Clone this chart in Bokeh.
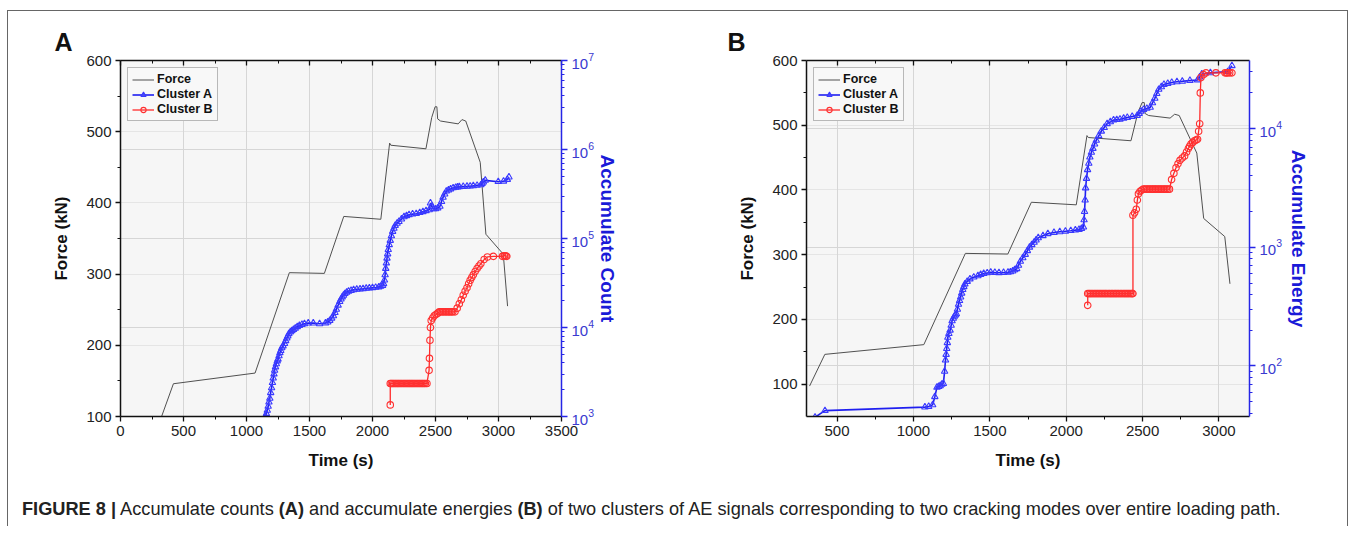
from bokeh.plotting import figure
from bokeh.models import (Range1d, LogScale, LinearAxis, LogAxis, FixedTicker, Grid,
                          Legend, LegendItem, Div)
from bokeh.layouts import row, column
from bokeh.embed import file_html
from bokeh.resources import INLINE

FONT = "Liberation Sans"

# ---- Force (kN) vs time (s), same loading path in both panels ----
force_t = [320, 420, 1068, 1340, 1618, 1772, 2066, 2136, 2145, 2424, 2470, 2497, 2511,
           2517, 2540, 2680, 2710, 2740, 2855, 2900, 3038, 3072]
force_kn = [97, 146, 161, 302, 301, 381, 377, 484, 481, 476, 520, 535, 535,
            518, 515, 511, 517, 515, 457, 356, 328, 255]

# ---- Panel A: accumulate counts ----
a_count_t = [1150, 1158, 1165, 1172, 1178, 1185, 1192, 1199, 1206, 1212, 1218, 1223, 1230,
             1237, 1244, 1250, 1258, 1265, 1272, 1280, 1290, 1302, 1311, 1320, 1328, 1336,
             1348, 1360, 1373, 1387, 1403, 1420, 1440, 1460, 1490, 1530, 1580, 1627, 1645,
             1661, 1676, 1690, 1702, 1713, 1727, 1740, 1750, 1760, 1770, 1781, 1795, 1810,
             1830, 1850, 1875, 1901, 1925, 1950, 1975, 2000, 2025, 2050, 2065, 2080, 2088,
             2095, 2100, 2105, 2110, 2115, 2120, 2125, 2133, 2141, 2150, 2160, 2170, 2180,
             2195, 2210, 2230, 2250, 2270, 2290, 2318, 2347, 2375, 2400, 2425, 2450, 2460,
             2470, 2485, 2500, 2518, 2535, 2548, 2560, 2573, 2586, 2603, 2620, 2640, 2660,
             2675, 2689, 2720, 2750, 2775, 2800, 2830, 2860, 2870, 2880, 2895, 2998, 3040,
             3070, 3083]
a_count = [1.0e3, 1.08e3, 1.17e3, 1.3e3, 1.45e3, 1.6e3, 1.85e3, 2.1e3, 2.4e3, 2.7e3, 3.0e3, 3.3e3, 3.6e3,
           3.9e3, 4.2e3, 4.4e3, 4.8e3, 5.2e3, 5.5e3, 5.9e3, 6.2e3, 6.6e3, 7.1e3, 7.6e3, 8.0e3, 8.5e3,
           8.9e3, 9.2e3, 9.5e3, 9.8e3, 1.02e4, 1.05e4, 1.08e4, 1.1e4, 1.12e4, 1.12e4, 1.1e4, 1.12e4, 1.15e4,
           1.2e4, 1.27e4, 1.35e4, 1.47e4, 1.6e4, 1.78e4, 1.95e4, 2.08e4, 2.2e4, 2.3e4, 2.4e4, 2.48e4, 2.55e4,
           2.6e4, 2.65e4, 2.68e4, 2.7e4, 2.72e4, 2.75e4, 2.77e4, 2.8e4, 2.82e4, 2.85e4, 2.9e4, 2.95e4, 3.1e4,
           3.4e4, 3.9e4, 4.6e4, 5.3e4, 6.0e4, 6.7e4, 7.5e4, 8.5e4, 9.5e4, 1.07e5, 1.2e5, 1.3e5, 1.4e5,
           1.48e5, 1.55e5, 1.65e5, 1.75e5, 1.8e5, 1.85e5, 1.88e5, 1.9e5, 1.95e5, 2.0e5, 2.05e5, 2.1e5, 2.5e5,
           2.3e5, 2.15e5, 2.15e5, 2.2e5, 2.3e5, 2.6e5, 2.9e5, 3.15e5, 3.4e5, 3.5e5, 3.6e5, 3.7e5, 3.75e5,
           3.78e5, 3.8e5, 3.83e5, 3.85e5, 3.87e5, 3.9e5, 3.95e5, 4.0e5, 4.15e5, 4.3e5, 4.5e5, 4.35e5, 4.4e5,
           4.6e5, 4.9e5]
b_count_t = [2141, 2141, 2150, 2160, 2170, 2180, 2190, 2200, 2210, 2220, 2230, 2240, 2250, 2260,
             2270, 2280, 2290, 2300, 2310, 2320, 2330, 2340, 2350, 2360, 2370, 2380, 2390, 2400,
             2410, 2420, 2432, 2449, 2452, 2456, 2460, 2466, 2478, 2490, 2504, 2518, 2530, 2542,
             2554, 2566, 2578, 2590, 2602, 2614, 2626, 2638, 2655, 2672, 2689, 2705, 2720, 2735,
             2750, 2763, 2775, 2788, 2800, 2815, 2830, 2845, 2860, 2886, 2912, 2960, 3032, 3045,
             3050, 3060, 3066]
b_count = [1.35e3, 2.35e3, 2.35e3, 2.35e3, 2.35e3, 2.35e3, 2.35e3, 2.35e3, 2.35e3, 2.35e3, 2.35e3,
           2.35e3, 2.35e3, 2.35e3, 2.35e3, 2.35e3, 2.35e3, 2.35e3, 2.35e3, 2.35e3, 2.35e3, 2.35e3,
           2.35e3, 2.35e3, 2.35e3, 2.35e3, 2.35e3, 2.35e3, 2.35e3, 2.35e3, 2.35e3, 3.3e3, 4.5e3, 7.2e3,
           1.0e4, 1.2e4, 1.28e4, 1.35e4, 1.4e4, 1.45e4, 1.5e4, 1.5e4, 1.5e4, 1.5e4, 1.5e4, 1.5e4, 1.5e4,
           1.5e4, 1.5e4, 1.5e4, 1.5e4, 1.65e4, 1.85e4, 2.05e4, 2.3e4, 2.55e4, 2.8e4, 3.1e4, 3.4e4, 3.65e4,
           3.9e4, 4.25e4, 4.6e4, 4.9e4, 5.2e4, 5.8e4, 6.2e4, 6.3e4, 6.3e4, 6.4e4, 6.4e4, 6.35e4, 6.3e4]

# ---- Panel B: accumulate energies ----
a_energy_t = [356, 421, 1075, 1100, 1126, 1140, 1154, 1165, 1175, 1186, 1196, 1204, 1210, 1214,
              1218, 1222, 1225, 1232, 1240, 1247, 1253, 1261, 1268, 1275, 1281, 1288, 1295, 1302,
              1309, 1316, 1323, 1330, 1337, 1352, 1370, 1395, 1422, 1440, 1460, 1483, 1506, 1533,
              1560, 1590, 1619, 1635, 1650, 1663, 1676, 1688, 1700, 1716, 1732, 1746, 1760, 1775,
              1790, 1803, 1817, 1848, 1880, 1920, 1958, 1995, 2030, 2060, 2084, 2100, 2113, 2117,
              2120, 2124, 2127, 2133, 2140, 2148, 2155, 2165, 2175, 2186, 2197, 2213, 2230, 2249,
              2268, 2289, 2310, 2331, 2352, 2376, 2400, 2432, 2465, 2478, 2490, 2507, 2528, 2550,
              2565, 2580, 2593, 2606, 2623, 2640, 2665, 2691, 2725, 2760, 2810, 2860, 2874, 2888,
              2944, 3057, 3085]
a_energy = [37, 42, 45, 45.5, 47, 55, 66, 67, 68, 70, 71, 90, 112, 125,
            140, 157, 174, 187, 200, 220, 240, 252, 262, 268, 275, 300, 330, 355,
            380, 410, 440, 465, 490, 515, 540, 560, 575, 588, 600, 608, 615, 612,
            610, 612, 615, 620, 630, 645, 660, 705, 760, 815, 870, 935, 1000, 1050,
            1100, 1150, 1200, 1250, 1300, 1330, 1350, 1365, 1380, 1395, 1410, 1440, 1480, 1700,
            2000, 2500, 3160, 3800, 4500, 5100, 5750, 6300, 6800, 7400, 7950, 8700, 9500, 10200,
            11000, 11400, 11800, 11900, 12000, 12200, 12400, 12650, 12900, 13400, 14000, 14500, 14800, 15100,
            16500, 18000, 19700, 21400, 22500, 23500, 24000, 24500, 24800, 25000, 25400, 25700, 27200, 28800,
            29500, 30200, 33900]
b_energy_t = [2141, 2141, 2150, 2160, 2170, 2180, 2190, 2200, 2210, 2220, 2230, 2240, 2250, 2260,
              2270, 2280, 2290, 2300, 2310, 2320, 2330, 2340, 2350, 2360, 2370, 2380, 2390, 2400,
              2410, 2420, 2430, 2437, 2437, 2448, 2459, 2466, 2473, 2483, 2493, 2505, 2515, 2525,
              2535, 2545, 2555, 2565, 2575, 2585, 2595, 2605, 2615, 2625, 2635, 2645, 2655, 2665,
              2676, 2690, 2705, 2719, 2732, 2745, 2760, 2775, 2788, 2800, 2808, 2817, 2828, 2840,
              2850, 2860, 2867, 2874, 2878, 2882, 2900, 2916, 2980, 3040, 3050, 3057, 3070, 3085]
b_energy = [324, 407, 407, 407, 407, 407, 407, 407, 407, 407, 407, 407, 407, 407,
            407, 407, 407, 407, 407, 407, 407, 407, 407, 407, 407, 407, 407, 407,
            407, 407, 407, 407, 1860, 1950, 2090, 2500, 2820, 2950, 3020, 3090, 3090, 3090,
            3090, 3090, 3090, 3090, 3090, 3090, 3090, 3090, 3090, 3090, 3090, 3090, 3090, 3090,
            3090, 3720, 4200, 4680, 5050, 5400, 5650, 5890, 6350, 6800, 7100, 7410, 7650, 7900,
            8000, 8130, 9500, 11000, 20000, 26900, 28500, 29500, 29500, 29500, 29500, 29500, 29500, 29500]

BLUE_AX = "#2626e6"
BLUE_LINE = "#1f1ff0"
RED = "#ff2a2a"


def style_axis(ax, color="#111111", label_color="#111111", label_size="17px"):
    ax.axis_line_color = color
    ax.axis_line_width = 1.5
    ax.major_tick_line_color = color
    ax.minor_tick_line_color = color
    ax.major_tick_line_width = 1.3
    ax.major_tick_out = 5
    ax.major_tick_in = 0
    ax.minor_tick_out = 3
    ax.minor_tick_in = 0
    ax.major_label_text_font = FONT
    ax.major_label_text_font_size = "15px"
    ax.major_label_text_color = "#222222"
    ax.major_label_standoff = 4
    ax.axis_label_text_font = FONT
    ax.axis_label_text_font_style = "bold"
    ax.axis_label_text_font_size = label_size
    ax.axis_label_text_color = label_color


def make_panel(letter, xr, yr, rr, xticks, xminor, yticks, yminor, rticks, rminor, rgrid,
               rlabel, ta, va, tb, vb, width, min_left, min_right, letter_off, r_standoff):
    p = figure(width=width, height=466, x_range=Range1d(*xr), y_range=Range1d(*yr),
               extra_y_ranges={"r": Range1d(*rr)}, extra_y_scales={"r": LogScale()},
               x_axis_location=None, y_axis_location=None, title=letter,
               output_backend="svg", toolbar_location=None,
               min_border_left=min_left, min_border_right=min_right,
               min_border_top=49, min_border_bottom=61)
    p.background_fill_color = "#f6f6f6"
    p.border_fill_color = "white"
    p.outline_line_color = None
    p.title.align = "left"
    p.title.offset = letter_off
    p.title.standoff = 9
    p.title.text_font = FONT
    p.title.text_font_style = "bold"
    p.title.text_font_size = "25px"
    p.title.text_color = "#111111"

    xt = FixedTicker(ticks=xticks, minor_ticks=xminor)
    xax = LinearAxis(ticker=xt, axis_label="Time (s)")
    style_axis(xax)
    xax.axis_label_standoff = 12
    p.add_layout(xax, "below")

    top = LinearAxis(ticker=FixedTicker(ticks=xticks, minor_ticks=xminor))
    style_axis(top)
    top.major_label_text_font_size = "2px"
    top.major_label_text_color = None
    top.major_label_standoff = 0
    top.major_tick_out = 0
    top.major_tick_in = 5
    top.minor_tick_out = 0
    top.minor_tick_in = 3
    p.add_layout(top, "above")

    yax = LinearAxis(ticker=FixedTicker(ticks=yticks, minor_ticks=yminor), axis_label="Force (kN)")
    style_axis(yax)
    yax.axis_label_standoff = 12
    p.add_layout(yax, "left")

    rax = LogAxis(y_range_name="r", ticker=FixedTicker(ticks=rticks, minor_ticks=rminor),
                  axis_label=rlabel)
    style_axis(rax, color=BLUE_AX, label_color="#1a1ad8", label_size="19px")
    rax.major_label_text_color = "#3a3ad0"
    rax.major_tick_out = 6
    rax.minor_tick_out = 3
    rax.axis_label_standoff = r_standoff
    p.add_layout(rax, "right")

    p.add_layout(Grid(dimension=0, ticker=xt, grid_line_color="#d6d6d6", grid_line_width=1))
    p.add_layout(Grid(dimension=1, y_range_name="r", ticker=FixedTicker(ticks=rgrid),
                      grid_line_color="#d6d6d6", grid_line_width=1))

    lf = p.line(force_t, force_kn, line_color="#505050", line_width=1)
    la = p.line(ta, va, y_range_name="r", line_color=BLUE_LINE, line_width=1.6)
    sa = p.scatter(ta, va, y_range_name="r", marker="triangle", size=6.5,
                   fill_color=None, line_color="#3a3aff", line_width=1.1)
    lb = p.line(tb, vb, y_range_name="r", line_color=RED, line_width=1.3)
    sb = p.scatter(tb, vb, y_range_name="r", marker="circle", size=6.5,
                   fill_color=None, line_color="#ff3030", line_width=1.1)

    leg = Legend(items=[LegendItem(label="Force", renderers=[lf]),
                        LegendItem(label="Cluster A", renderers=[la, sa]),
                        LegendItem(label="Cluster B", renderers=[lb, sb])],
                 location="top_left")
    leg.margin = 7
    leg.padding = 4
    leg.spacing = 1
    leg.glyph_width = 22
    leg.glyph_height = 13
    leg.label_height = 13
    leg.label_standoff = 3
    leg.label_text_font = FONT
    leg.label_text_font_style = "bold"
    leg.label_text_font_size = "12.5px"
    leg.label_text_color = "#111111"
    leg.border_line_color = "#777777"
    leg.border_line_width = 1
    leg.background_fill_color = "#f8f8f8"
    leg.background_fill_alpha = 1.0
    p.add_layout(leg)
    return p


pA = make_panel("A", (0, 3500), (100, 600), (1e3, 1e7),
                [0, 500, 1000, 1500, 2000, 2500, 3000, 3500],
                [250, 750, 1250, 1750, 2250, 2750, 3250],
                [100, 200, 300, 400, 500, 600], [150, 250, 350, 450, 550],
                [1e3, 1e4, 1e5, 1e6, 1e7],
                [2e3, 3e3, 4e3, 5e3, 6e3, 7e3, 8e3, 9e3, 2e4, 3e4, 4e4, 5e4, 6e4, 7e4, 8e4, 9e4,
                 2e5, 3e5, 4e5, 5e5, 6e5, 7e5, 8e5, 9e5, 2e6, 3e6, 4e6, 5e6, 6e6, 7e6, 8e6, 9e6],
                [1e4, 1e5, 1e6], "Accumulate Count",
                a_count_t, a_count, b_count_t, b_count,
                672, 112, 119, -66, 0)

pB = make_panel("B", (300, 3200), (50, 600), (37.5, 37500),
                [500, 1000, 1500, 2000, 2500, 3000],
                [750, 1250, 1750, 2250, 2750],
                [100, 200, 300, 400, 500, 600], [150, 250, 350, 450, 550],
                [1e2, 1e3, 1e4],
                [40, 50, 60, 70, 80, 90, 200, 300, 400, 500, 600, 700, 800, 900,
                 2000, 3000, 4000, 5000, 6000, 7000, 8000, 9000, 2e4, 3e4],
                [1e2, 1e3, 1e4], "Accumulate Energy",
                a_energy_t, a_energy, b_energy_t, b_energy,
                667, 126, 98, -79, 3)

caption = Div(text='<b>FIGURE 8 |</b> Accumulate counts <b>(A)</b> and accumulate energies <b>(B)</b> '
                   'of two clusters of AE signals corresponding to two cracking modes over entire loading path.',
              width=1320, height=30, margin=(19, 0, 0, 14),
              styles={"font-family": "'Liberation Sans', sans-serif",
                      "font-size": "18.2px", "color": "#222222", "white-space": "nowrap"})

layout = column(row(pA, pB), caption, margin=(10, 0, 0, 7),
                styles={"border-top": "1px solid #666666", "border-left": "1px solid #666666",
                        "border-right": "1px solid #666666"})

open("out.html", "w").write(file_html(layout, INLINE))
